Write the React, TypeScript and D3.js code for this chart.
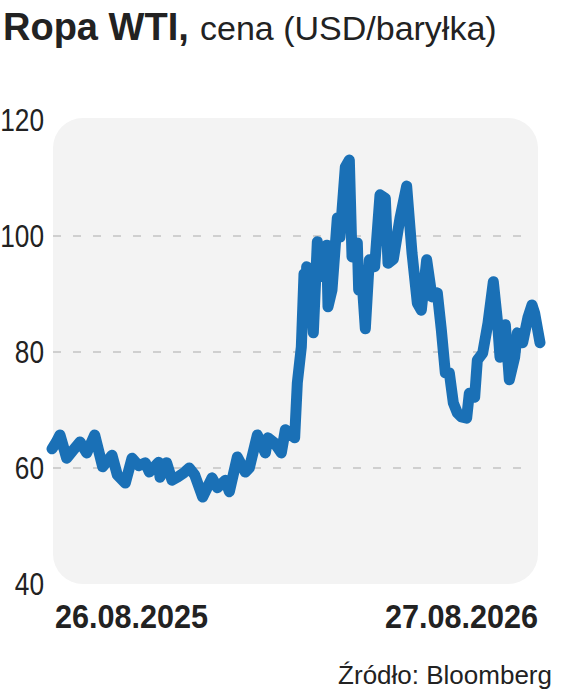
import React, { useEffect, useRef } from "react";
import * as d3 from "d3";

// WTI crude, USD per barrel, daily closes
const startLabel = "26.08.2025";
const endLabel = "27.08.2026";
const startDate = new Date(2025, 7, 26);
const endDate = new Date(2026, 7, 27);

// days since 26.08.2025
const dayOffsets = [
  0, 3, 6, 11, 16, 21, 26, 32, 38, 45, 49, 55, 60, 65, 70, 73, 80, 81, 86, 90, 94, 99, 103,
  107, 113, 120, 124, 130, 133, 139, 145, 148, 154, 160, 162, 167, 172, 175, 182,
  184, 187, 189, 190, 191, 193, 194, 196, 199, 202, 206, 207, 210, 214, 216, 220, 223, 225,
  229, 230, 232, 235, 238, 242, 246, 250, 252, 256, 261, 266, 270, 274, 277, 281,
  285, 289, 292, 295, 298, 301, 304, 307, 311, 313, 317, 319, 323, 327, 331, 334,
  336, 340, 343, 347, 349, 353, 357, 360, 362, 366,
];
const prices = [
  63.3, 64.4, 65.7, 61.7, 63.1, 64.5, 62.6, 65.7, 60.2, 62.2, 58.8, 57.4, 61.7, 60.4, 60.9, 59.3, 61.0, 58.4, 60.9, 57.9, 58.4, 59.2, 60.0,
  58.8, 55.0, 58.3, 56.6, 57.9, 55.9, 61.9, 59.3, 60.0, 65.7, 62.6, 65.2, 64.3, 62.6, 66.6, 65.2,
  74.7, 80.9, 93.5, 88.0, 94.7, 86.0, 92.0, 83.3, 99.0, 93.0, 98.4, 87.8, 90.7, 103.1, 99.8, 111.9, 113.1, 96.4,
  98.8, 90.7, 94.1, 84.0, 95.9, 94.7, 107.1, 106.5, 95.3, 96.0, 103.1, 108.6, 97.1, 88.4, 87.2, 95.9,
  89.5, 90.2, 83.8, 76.4, 76.4, 71.2, 69.5, 68.8, 68.6, 72.9, 72.2, 78.6, 79.8, 85.0, 92.1, 85.5,
  79.1, 84.7, 75.2, 79.1, 83.3, 81.6, 86.0, 88.1, 86.7, 81.6,
];
const yTicks = [40, 60, 80, 100, 120];
const gridValues = [60, 80, 100];

const W = 564;
const H = 694;
const FONT = "'Liberation Sans', Arial, sans-serif";

const App: React.FC = () => {
  const ref = useRef<SVGSVGElement>(null);

  useEffect(() => {
    const svg = d3.select(ref.current);
    svg.selectAll("*").remove();

    const x = d3.scaleTime().domain([startDate, endDate]).range([52, 540]);
    const y = d3.scaleLinear().domain([40, 120]).range([584, 120]);

    const data = dayOffsets.map((d, i) => ({
      date: d3.timeDay.offset(startDate, d),
      value: prices[i],
    }));

    // background panel
    svg
      .append("rect")
      .attr("x", 53)
      .attr("y", y(120) - 2)
      .attr("width", 538 - 53)
      .attr("height", y(40) - y(120) + 2)
      .attr("rx", 30)
      .attr("fill", "#f3f3f3");

    // dashed gridlines
    svg
      .selectAll("line.grid")
      .data(gridValues)
      .enter()
      .append("line")
      .attr("class", "grid")
      .attr("x1", 53)
      .attr("x2", 532)
      .attr("y1", (d) => y(d))
      .attr("y2", (d) => y(d))
      .attr("stroke", "#c4c4c4")
      .attr("stroke-width", 1.5)
      .attr("stroke-dasharray", "8,12");

    // y tick labels (condensed by a horizontal squeeze)
    svg
      .selectAll("text.ytick")
      .data(yTicks)
      .enter()
      .append("text")
      .attr("class", "ytick")
      .attr("transform", (d) => `translate(44,${y(d) + 11}) scale(0.82,1)`)
      .attr("text-anchor", "end")
      .style("font-family", FONT)
      .style("font-size", "32px")
      .attr("fill", "#222")
      .text((d) => d);

    // price line
    const line = d3
      .line<{ date: Date; value: number }>()
      .x((d) => x(d.date))
      .y((d) => y(d.value));

    svg
      .append("path")
      .datum(data)
      .attr("d", line)
      .attr("fill", "none")
      .attr("stroke", "#1a70b6")
      .attr("stroke-width", 11)
      .attr("stroke-linejoin", "round")
      .attr("stroke-linecap", "round");

    // date labels
    svg
      .append("text")
      .attr("transform", "translate(55,628) scale(0.9,1)")
      .style("font-family", FONT)
      .style("font-size", "34px")
      .style("font-weight", "bold")
      .attr("fill", "#222")
      .text(startLabel);

    svg
      .append("text")
      .attr("transform", "translate(538,628) scale(0.9,1)")
      .attr("text-anchor", "end")
      .style("font-family", FONT)
      .style("font-size", "34px")
      .style("font-weight", "bold")
      .attr("fill", "#222")
      .text(endLabel);

    // title
    const title = svg
      .append("text")
      .attr("x", 3)
      .attr("y", 40)
      .style("font-family", FONT)
      .attr("fill", "#222");
    title
      .append("tspan")
      .style("font-size", "38px")
      .style("font-weight", "bold")
      .text("Ropa WTI,");
    title
      .append("tspan")
      .attr("x", 200)
      .style("font-size", "34px")
      .text("cena (USD/baryłka)");

    // source
    svg
      .append("text")
      .attr("x", 552)
      .attr("y", 684)
      .attr("text-anchor", "end")
      .style("font-family", FONT)
      .style("font-size", "26px")
      .attr("fill", "#222")
      .text("Źródło: Bloomberg");
  }, []);

  return (
    <svg
      ref={ref}
      width={W}
      height={H}
      style={{ position: "absolute", left: 0, top: 0, background: "#fff" }}
    />
  );
};

export default App;
